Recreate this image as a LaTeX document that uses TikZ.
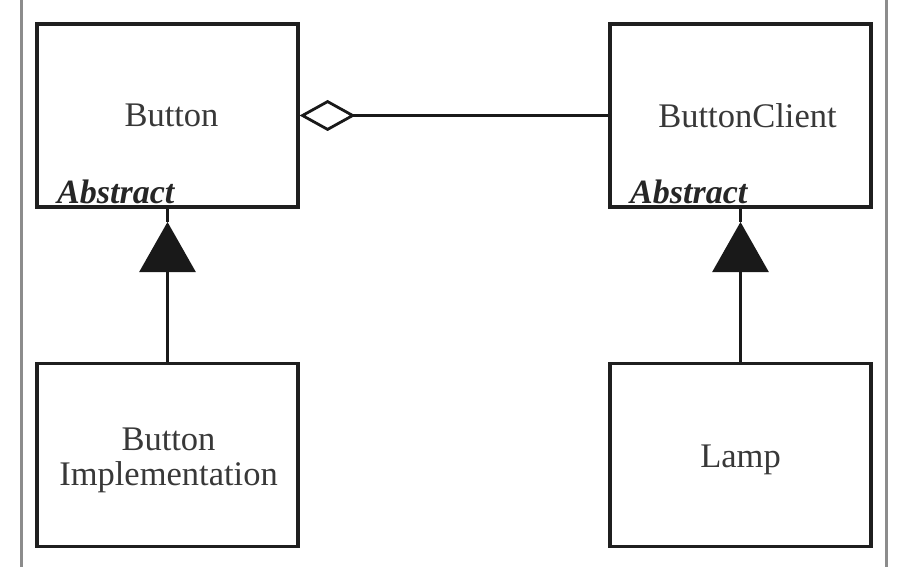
\documentclass[tikz,border=0pt]{standalone}
\usepackage{fontspec}
\setmainfont{Liberation Serif}
\usetikzlibrary{arrows.meta}
\begin{document}
\begin{tikzpicture}[x=1pt,y=-1pt,
  classbox/.style={draw=black!88, line width=3.2pt, minimum width=261pt, minimum height=183pt, inner sep=0pt},
  classtext/.style={inner sep=0pt, font=\fontsize{34.5}{35}\selectfont, text=black!78, align=center},
  abstractlbl/.style={anchor=base west, inner sep=0pt, font=\fontsize{34}{35}\selectfont\bfseries\itshape, text=black!85},
  link/.style={line width=2.8pt, draw=black!90},
  frameline/.style={line width=3pt, draw=black!45}]
\useasboundingbox (0,0) rectangle (898,567);
\draw[frameline] (21.5,-5) -- (21.5,572);
\draw[frameline] (886,-5) -- (886,572);
\node[classbox] (button) at (167.5,115.5) {};
\node[classbox] (client) at (740.5,115.5) {};
\node[classbox] (impl) at (167.5,455) {};
\node[classbox] (lamp) at (740.5,455) {};
\node[classtext, xshift=4pt] (buttonT) at (button.center) {Button};
\node[classtext, xshift=7pt] (clientT) at (client.center) {ButtonClient};
\node[classtext, yshift=-5pt, xshift=1pt] (implT) at (impl.center) {Button\\Implementation};
\node[classtext, yshift=-5pt] (lampT) at (lamp.center) {Lamp};
\node[abstractlbl] (absL) at (57,204) {Abstract};
\node[abstractlbl] (absR) at (630,204) {Abstract};
\draw[link, {Diamond[open, length=56pt, width=31pt, line width=2.8pt]}-] (button.east) -- (client.west);
\coordinate (tipL) at (167.5,222);
\coordinate (tipR) at (740.5,222);
\draw[link, -{Triangle[length=50pt, width=56pt]}] (impl.north) -- (tipL);
\draw[link] (tipL) -- (button.south);
\draw[link, -{Triangle[length=50pt, width=56pt]}] (lamp.north) -- (tipR);
\draw[link] (tipR) -- (client.south);
\end{tikzpicture}
\end{document}
